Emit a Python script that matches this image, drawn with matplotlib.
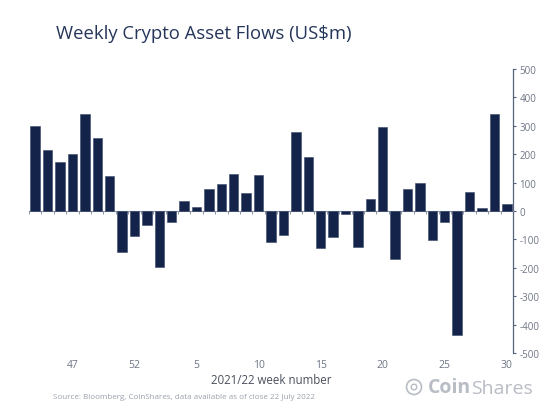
import matplotlib.pyplot as plt
from matplotlib.patches import Circle

# weekly flows, US$m, week 44 of 2021 to week 30 of 2022
weeks = [44, 45, 46, 47, 48, 49, 50, 51, 52, 1, 2, 3, 4, 5, 6, 7, 8, 9, 10,
         11, 12, 13, 14, 15, 16, 17, 18, 19, 20, 21, 22, 23, 24, 25, 26, 27,
         28, 29, 30]
flows = [300, 216, 173, 199, 341, 256, 124, -143, -87, -48, -198, -40, 35,
         15, 79, 94, 129, 62, 128, -109, -83, 279, 190, -130, -91, -11, -125,
         41, 295, -170, 76, 98, -101, -39, -436, 68, 11, 343, 26]
shown_weeks = [47, 52, 5, 10, 15, 20, 25, 30]
y_ticks = [500, 400, 300, 200, 100, 0, -100, -200, -300, -400, -500]

navy = "#13234a"
grey = "#6e7585"
axis_col = "#55627c"

plt.rcParams['font.family'] = ['Open Sans', 'DejaVu Sans']

fig = plt.figure(figsize=(5.6, 4.14), dpi=100)
ax = fig.add_axes([29 / 560, 1 - 354 / 414, 484 / 560, 284 / 414])

pos = list(range(len(weeks)))
ax.bar(pos, flows, width=0.76, color=navy, edgecolor="#3a4868", linewidth=0.4, zorder=3)

ax.set_xlim(-0.5, len(weeks) - 0.5)
ax.set_ylim(-500, 500)

# zero line with small ticks between bars
for s in ['top', 'left']:
    ax.spines[s].set_visible(False)
ax.spines['bottom'].set_position(('data', 0))
ax.spines['bottom'].set_color("#8a93a6")
ax.spines['bottom'].set_linewidth(0.8)
ax.set_xticks([p - 0.5 for p in pos] + [len(weeks) - 0.5])
ax.tick_params(axis='x', length=2.5, width=0.7, color="#8a93a6", labelbottom=False)

# value axis on the right
ax.spines['right'].set_color(axis_col)
ax.spines['right'].set_linewidth(0.9)
ax.yaxis.tick_right()
ax.set_yticks(y_ticks)
ax.set_yticklabels([str(v) for v in y_ticks])
ax.tick_params(axis='y', length=2.5, width=0.8, color=axis_col, labelcolor=grey,
               labelsize=7, pad=2)

# week labels along the bottom
sec = ax.secondary_xaxis(-0.0)
sec.set_xticks([weeks.index(w) for w in shown_weeks])
sec.set_xticklabels([str(w) for w in shown_weeks])
sec.tick_params(length=0, labelsize=7.5, labelcolor=grey, pad=4)
sec.spines['bottom'].set_visible(False)

fig.text(271 / 560, 1 - 381 / 414, "2021/22 week number", ha='center',
         va='center', fontsize=8.3, color="#4a4f5c")
fig.text(56 / 560, 1 - 34 / 414, "Weekly Crypto Asset Flows (US$m)", ha='left',
         va='center', fontsize=13.3, color="#25365a")
fig.text(53 / 560, 1 - 398 / 414, "Source: Bloomberg, CoinShares, data available as of close 22 July 2022",
         ha='left', va='center', fontsize=5.8, color="#9aa0ab")

# CoinShares logo
logo_col = "#b8bcc4"
fig.patches.append(Circle((414, 414 - 388), 7.5, transform=None, fill=False,
                          edgecolor=logo_col, linewidth=1.2))
fig.patches.append(Circle((414, 414 - 388), 2.8, transform=None, fill=False,
                          edgecolor=logo_col, linewidth=1.0))
coin = fig.text(428 / 560, 1 - 388 / 414, "Coin", ha='left', va='center', fontsize=14,
                fontweight='bold', color=logo_col)
ax.annotate("Shares", xy=(1, 0), xycoords=coin, ha='left', va='bottom',
            fontsize=14, color=logo_col, annotation_clip=False)

fig.savefig("out.png", dpi=100)
